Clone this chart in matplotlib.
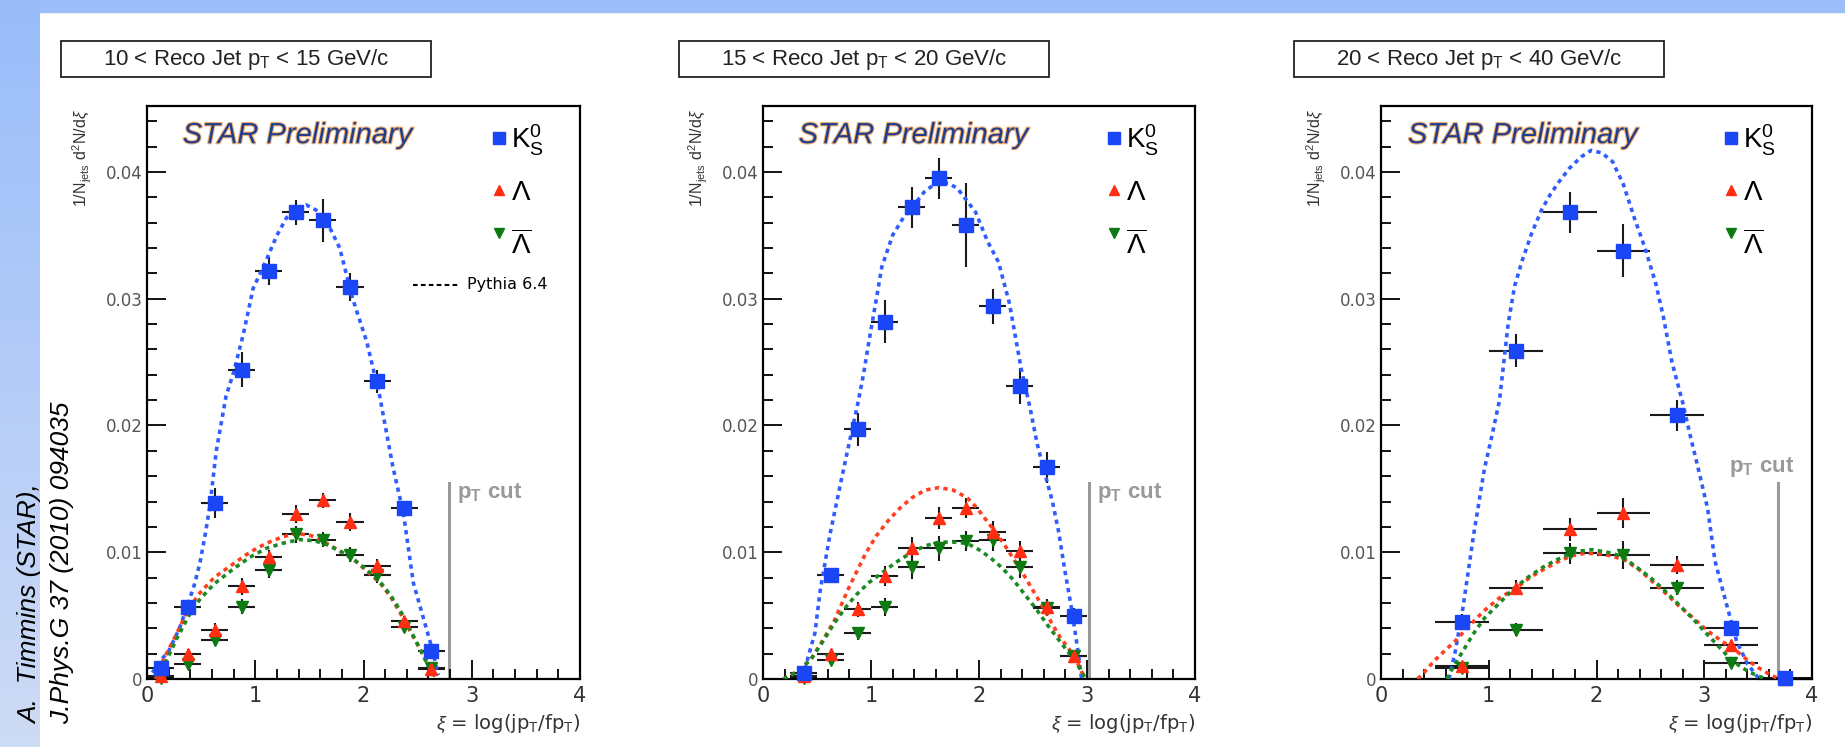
import numpy as np
import matplotlib
matplotlib.use("Agg")
import matplotlib.pyplot as plt
from matplotlib.patches import Rectangle
from matplotlib import patheffects
from matplotlib.ticker import FixedLocator, MultipleLocator

plt.rcParams["font.family"] = ["Liberation Sans", "DejaVu Sans"]
plt.rcParams["mathtext.fontset"] = "custom"
plt.rcParams["mathtext.rm"] = "Liberation Sans"
plt.rcParams["mathtext.it"] = "Liberation Sans:italic"
plt.rcParams["mathtext.bf"] = "Liberation Sans:bold"

# ---- data ----
titles = [r"10 < Reco Jet p$_\mathrm{T}$ < 15 GeV/c",
          r"15 < Reco Jet p$_\mathrm{T}$ < 20 GeV/c",
          r"20 < Reco Jet p$_\mathrm{T}$ < 40 GeV/c"]

xi1 = [0.125, 0.375, 0.625, 0.875, 1.125, 1.375, 1.625, 1.875, 2.125, 2.375, 2.625]
k0s1 = [0.0009, 0.0057, 0.0139, 0.0244, 0.0322, 0.0368, 0.0362, 0.0309, 0.0235, 0.0135, 0.0022]
k0s1_err = [0.0003, 0.0004, 0.0012, 0.0014, 0.0011, 0.0010, 0.0017, 0.0011, 0.0009, 0.0005, 0.0003]
lam1 = [0.0002, 0.0020, 0.0039, 0.0073, 0.0096, 0.0130, 0.0141, 0.0124, 0.0089, 0.0046, 0.0008]
lam1_err = [0.0002, 0.0004, 0.0005, 0.0007, 0.0006, 0.0007, 0.0006, 0.0007, 0.0006, 0.0004, 0.0003]
alam1 = [0.0001, 0.0012, 0.0031, 0.0057, 0.0086, 0.0114, 0.0110, 0.0098, 0.0082, 0.0041, 0.0009]
alam1_err = [0.0002, 0.0004, 0.0005, 0.0006, 0.0006, 0.0007, 0.0006, 0.0006, 0.0006, 0.0004, 0.0003]

xi2 = [0.375, 0.625, 0.875, 1.125, 1.375, 1.625, 1.875, 2.125, 2.375, 2.625, 2.875]
k0s2 = [0.0005, 0.0082, 0.0197, 0.0282, 0.0372, 0.0395, 0.0358, 0.0294, 0.0231, 0.0167, 0.0050]
k0s2_err = [0.0004, 0.0005, 0.0013, 0.0017, 0.0016, 0.0016, 0.0033, 0.0014, 0.0014, 0.0012, 0.0006]
lam2 = [0.0002, 0.0020, 0.0055, 0.0081, 0.0103, 0.0127, 0.0135, 0.0116, 0.0101, 0.0057, 0.0018]
lam2_err = [0.0002, 0.0004, 0.0006, 0.0008, 0.0009, 0.0009, 0.0008, 0.0009, 0.0008, 0.0006, 0.0004]
alam2 = [0.0001, 0.0015, 0.0036, 0.0057, 0.0088, 0.0103, 0.0109, 0.0110, 0.0088, 0.0056, 0.0018]
alam2_err = [0.0002, 0.0004, 0.0005, 0.0007, 0.0009, 0.0010, 0.0008, 0.0009, 0.0008, 0.0006, 0.0004]

xi3 = [0.75, 1.25, 1.75, 2.25, 2.75, 3.25, 3.75]
k0s3 = [0.0045, 0.0259, 0.0368, 0.0338, 0.0208, 0.0040, 0.0001]
k0s3_err = [0.0006, 0.0013, 0.0016, 0.0021, 0.0012, 0.0004, 0.0001]
lam3 = [0.0010, 0.0072, 0.0118, 0.0131, 0.0090, 0.0027, 0.0]
lam3_err = [0.0003, 0.0006, 0.0009, 0.0012, 0.0007, 0.0004, 0.0001]
alam3 = [0.0009, 0.0039, 0.0099, 0.0098, 0.0072, 0.0013, 0.0]
alam3_err = [0.0003, 0.0005, 0.0008, 0.0011, 0.0006, 0.0003, 0.0001]

bin_half = [0.125, 0.125, 0.25]

# Pythia 6.4 curves (x, y) for K0S, Lambda, anti-Lambda
py1_k0s_x = [0.05, 0.12, 0.20, 0.30, 0.37, 0.44, 0.49, 0.54, 0.58, 0.64, 0.73, 0.80, 0.89, 0.98, 1.10,
             1.20, 1.29, 1.40, 1.47, 1.56, 1.66, 1.78, 1.90, 2.03, 2.15, 2.27, 2.37, 2.46, 2.55, 2.64, 2.69]
py1_k0s_y = [0.0005, 0.0014, 0.0022, 0.0040, 0.0057, 0.0075, 0.0092, 0.0115, 0.0136, 0.0180, 0.0223,
             0.0242, 0.0272, 0.0308, 0.0330, 0.0350, 0.0364, 0.0372, 0.0374, 0.0370, 0.0361, 0.0340,
             0.0300, 0.0266, 0.0223, 0.0168, 0.0130, 0.0076, 0.0049, 0.0022, 0.0003]
py1_lam_x = [0.08, 0.15, 0.27, 0.38, 0.49, 0.62, 0.80, 0.95, 1.10, 1.25, 1.38, 1.52, 1.66, 1.78, 1.90,
             2.02, 2.15, 2.25, 2.34, 2.43, 2.52, 2.60, 2.66]
py1_lam_y = [0.0, 0.0015, 0.0035, 0.0055, 0.0068, 0.0080, 0.0091, 0.0100, 0.0107, 0.0112, 0.0115,
             0.0113, 0.0107, 0.0101, 0.0095, 0.0086, 0.0076, 0.0065, 0.0052, 0.0038, 0.0024, 0.0011, 0.0002]
py1_alam_x = [0.10, 0.17, 0.27, 0.38, 0.49, 0.62, 0.80, 0.95, 1.10, 1.25, 1.41, 1.55, 1.66, 1.78, 1.90,
              2.02, 2.15, 2.25, 2.34, 2.43, 2.52, 2.60, 2.68]
py1_alam_y = [0.0, 0.0013, 0.0031, 0.0049, 0.0063, 0.0075, 0.0087, 0.0096, 0.0103, 0.0107, 0.0110,
              0.0109, 0.0106, 0.0101, 0.0095, 0.0087, 0.0077, 0.0066, 0.0054, 0.0039, 0.0024, 0.0010, 0.0]

py2_k0s_x = [0.37, 0.42, 0.48, 0.53, 0.62, 0.73, 0.80, 0.87, 0.93, 0.98, 1.05, 1.10, 1.20, 1.30, 1.38,
             1.50, 1.62, 1.72, 1.80, 1.90, 1.97, 2.08, 2.18, 2.28, 2.39, 2.47, 2.54, 2.61, 2.68, 2.74,
             2.79, 2.86, 2.92, 2.95]
py2_k0s_y = [0.0001, 0.0018, 0.0036, 0.0070, 0.0114, 0.0159, 0.0187, 0.0214, 0.0240, 0.0266, 0.0300,
             0.0325, 0.0350, 0.0364, 0.0372, 0.0385, 0.0392, 0.0391, 0.0387, 0.0376, 0.0368, 0.0345,
             0.0329, 0.0297, 0.0245, 0.0215, 0.0185, 0.0162, 0.0140, 0.0115, 0.0088, 0.0054, 0.0020, 0.0]
py2_lam_x = [0.19, 0.30, 0.44, 0.55, 0.66, 0.80, 0.95, 1.05, 1.16, 1.27, 1.38, 1.50, 1.63, 1.76, 1.89,
             1.98, 2.07, 2.16, 2.25, 2.34, 2.43, 2.52, 2.61, 2.68, 2.75, 2.83, 2.90, 2.97]
py2_lam_y = [0.0, 0.0005, 0.0015, 0.0030, 0.0046, 0.0073, 0.0099, 0.0113, 0.0125, 0.0135, 0.0143,
             0.0149, 0.0151, 0.0149, 0.0143, 0.0135, 0.0125, 0.0115, 0.0104, 0.0092, 0.0080, 0.0067,
             0.0054, 0.0043, 0.0033, 0.0024, 0.0015, 0.0002]
py2_alam_x = [0.19, 0.30, 0.44, 0.55, 0.66, 0.77, 0.87, 0.98, 1.09, 1.23, 1.38, 1.50, 1.63, 1.76, 1.89,
              2.00, 2.10, 2.21, 2.32, 2.43, 2.54, 2.63, 2.72, 2.81, 2.90, 2.99]
py2_alam_y = [0.0, 0.0005, 0.0015, 0.0029, 0.0044, 0.0057, 0.0067, 0.0076, 0.0083, 0.0092, 0.0100,
              0.0105, 0.0108, 0.0108, 0.0107, 0.0102, 0.0096, 0.0088, 0.0078, 0.0066, 0.0054, 0.0043,
              0.0033, 0.0023, 0.0013, 0.0]

py3_k0s_x = [0.63, 0.69, 0.76, 0.81, 0.86, 0.91, 0.96, 1.03, 1.10, 1.14, 1.18, 1.24, 1.31, 1.40, 1.49,
             1.57, 1.65, 1.75, 1.86, 1.95, 2.05, 2.15, 2.25, 2.35, 2.45, 2.55, 2.62, 2.70, 2.80, 2.87,
             2.93, 3.03, 3.10, 3.20, 3.30, 3.40, 3.50]
py3_k0s_y = [0.0, 0.0022, 0.0056, 0.0085, 0.0114, 0.0140, 0.0166, 0.0192, 0.0220, 0.0250, 0.0280,
             0.0310, 0.0330, 0.0352, 0.0370, 0.0382, 0.0392, 0.0403, 0.0412, 0.0417, 0.0415, 0.0408,
             0.0390, 0.0364, 0.0340, 0.0312, 0.0286, 0.0250, 0.0218, 0.0192, 0.0171, 0.0135, 0.0093,
             0.0061, 0.0030, 0.0012, 0.0001]
py3_lam_x = [0.34, 0.42, 0.49, 0.60, 0.69, 0.83, 0.96, 1.10, 1.26, 1.38, 1.50, 1.63, 1.76, 1.88, 2.01,
             2.14, 2.26, 2.40, 2.53, 2.65, 2.76, 2.90, 3.03, 3.16, 3.30, 3.40, 3.50, 3.60, 3.67]
py3_lam_y = [0.0, 0.0007, 0.0014, 0.0023, 0.0030, 0.0043, 0.0054, 0.0064, 0.0072, 0.0080, 0.0086,
             0.0092, 0.0097, 0.0099, 0.0099, 0.0097, 0.0094, 0.0086, 0.0076, 0.0067, 0.0058, 0.0048,
             0.0038, 0.0030, 0.0022, 0.0015, 0.0009, 0.0004, 0.0001]
py3_alam_x = [0.61, 0.68, 0.76, 0.86, 0.96, 1.10, 1.23, 1.36, 1.50, 1.63, 1.76, 1.86, 1.96, 2.10, 2.23,
              2.36, 2.50, 2.63, 2.76, 2.90, 3.03, 3.13, 3.23, 3.33, 3.43, 3.57]
py3_alam_y = [0.0, 0.0011, 0.0022, 0.0036, 0.0048, 0.0060, 0.0071, 0.0080, 0.0088, 0.0094, 0.0099,
              0.0101, 0.0102, 0.0100, 0.0097, 0.0089, 0.0080, 0.0070, 0.0059, 0.0047, 0.0035, 0.0026,
              0.0017, 0.0010, 0.0005, 0.0]

pt_cut = [2.79, 3.02, 3.68]

ytick_vals = [0, 0.01, 0.02, 0.03, 0.04]
ytick_labels = ["0", "0.01", "0.02", "0.03", "0.04"]
xtick_vals = [0, 1, 2, 3, 4]
xtick_labels = ["0", "1", "2", "3", "4"]

panels = [
    (xi1, k0s1, k0s1_err, lam1, lam1_err, alam1, alam1_err,
     (py1_k0s_x, py1_k0s_y), (py1_lam_x, py1_lam_y), (py1_alam_x, py1_alam_y)),
    (xi2, k0s2, k0s2_err, lam2, lam2_err, alam2, alam2_err,
     (py2_k0s_x, py2_k0s_y), (py2_lam_x, py2_lam_y), (py2_alam_x, py2_alam_y)),
    (xi3, k0s3, k0s3_err, lam3, lam3_err, alam3, alam3_err,
     (py3_k0s_x, py3_k0s_y), (py3_lam_x, py3_lam_y), (py3_alam_x, py3_alam_y)),
]

BLUE, RED, GREEN = "#1a46f5", "#ff2e12", "#0d7a12"
PBLUE, PRED, PGREEN = "#2f5dff", "#ff4020", "#1b8a25"

W, H = 1845, 747
fig = plt.figure(figsize=(W / 100, H / 100), dpi=100)

def frac(x0, x1, ytop, ybot):
    return [x0 / W, 1 - ybot / H, (x1 - x0) / W, (ybot - ytop) / H]

# slide background: blue top bar and fading left bar
bg = fig.add_axes(frac(0, 40, 0, H))
grad = np.linspace(0, 1, 256).reshape(-1, 1)
c_top = np.array([0.60, 0.74, 0.98])
c_bot = np.array([0.81, 0.86, 0.96])
bg.imshow(c_top + grad[..., None] * (c_bot - c_top), aspect="auto", extent=[0, 1, 0, 1])
bg.axis("off")
fig.add_artist(Rectangle((0, 1 - 12 / H), 1, 12 / H, transform=fig.transFigure,
                         color="#9cbef8", zorder=0))

fig.text(30 / W, 1 - 724 / H, "A.  Timmins (STAR),", rotation=90, ha="center", va="bottom",
         style="italic", fontsize=19)
fig.text(62 / W, 1 - 724 / H, "J.Phys.G 37 (2010) 094035", rotation=90, ha="center", va="bottom",
         style="italic", fontsize=19)

ax_x = [(147, 580), (763, 1195), (1381, 1812)]
box_x = [(61, 431), (679, 1049), (1294, 1664)]
AX_TOP, AX_BOT = 106, 679

dot = (0, (1.2, 1.2))

for i, (xi, k, ke, l, le, a, ae, pk, pl, pa) in enumerate(panels):
    ax = fig.add_axes(frac(ax_x[i][0], ax_x[i][1], AX_TOP, AX_BOT))
    hw = bin_half[i]

    # title box
    bx0, bx1 = box_x[i]
    fig.add_artist(Rectangle((bx0 / W, 1 - 77 / H), (bx1 - bx0) / W, 36 / H,
                             transform=fig.transFigure, fill=False, lw=1.3, ec="#222"))
    fig.text((bx0 + bx1) / 2 / W, 1 - 59 / H, titles[i], ha="center", va="center",
             fontsize=16, color="#222")

    # pythia curves
    ax.plot(pk[0], pk[1], ls=dot, color=PBLUE, lw=2.6, zorder=3)
    ax.plot(pl[0], pl[1], ls=dot, color=PRED, lw=2.6, zorder=3)
    ax.plot(pa[0], pa[1], ls=dot, color=PGREEN, lw=2.6, zorder=3)

    # data with error bars
    for y, e in ((k, ke), (l, le), (a, ae)):
        ax.errorbar(xi, y, xerr=hw, yerr=e, fmt="none", ecolor="#1a1a1a",
                    elinewidth=1.5, capsize=0, zorder=2, clip_on=False)
    ax.plot(xi, a, "v", color=GREEN, ms=9, zorder=4, clip_on=False)
    ax.plot(xi, l, "^", color=RED, ms=9, zorder=4, clip_on=False)
    ax.plot(xi, k, "s", color=BLUE, ms=10.5, zorder=5, clip_on=False)

    # pT cut marker
    ax.plot([pt_cut[i], pt_cut[i]], [0, 0.0155], color="#9a9a9a", lw=2.2, zorder=1)
    if i < 2:
        ax.text(pt_cut[i] + 0.07, 0.0156, r"$\mathbf{p_T}$ cut", ha="left", va="top",
                fontsize=16, fontweight="bold", color="#999999")
    else:
        ax.text(pt_cut[i] - 0.45, 0.0158, r"$\mathbf{p_T}$ cut", ha="left", va="bottom",
                fontsize=16, fontweight="bold", color="#999999")

    # STAR label and legend
    ax.text(0.33 if i < 2 else 0.25, 0.0429, "STAR Preliminary", style="italic", fontsize=21,
            color="#1d3d8f", va="center", ha="left",
            path_effects=[patheffects.withStroke(linewidth=1.6, foreground="#f2b070")])
    ax.plot([3.25], [0.0427], "s", color=BLUE, ms=8)
    ax.text(3.36, 0.0425, r"$\mathrm{K}^{0}_{\mathrm{S}}$", fontsize=20, va="center")
    ax.plot([3.25], [0.0386], "^", color=RED, ms=6.5)
    ax.text(3.36, 0.0383, r"$\Lambda$", fontsize=20, va="center")
    ax.plot([3.25], [0.0352], "v", color=GREEN, ms=6.5)
    ax.text(3.36, 0.0342, r"$\overline{\Lambda}$", fontsize=20, va="center")
    if i == 0:
        ax.plot([2.46, 2.88], [0.0311, 0.0311], color="k", ls=(0, (2.2, 1.6)), lw=1.5)
        ax.text(2.96, 0.0311, "Pythia 6.4", fontsize=11.5, va="center", family="DejaVu Sans")

    # axes styling in ROOT fashion
    ax.set_xlim(0, 4)
    ax.set_ylim(0, 0.0452)
    ax.yaxis.set_major_locator(FixedLocator(ytick_vals))
    ax.set_yticklabels(ytick_labels)
    ax.yaxis.set_minor_locator(MultipleLocator(0.002))
    ax.xaxis.set_major_locator(FixedLocator(xtick_vals))
    ax.set_xticklabels(xtick_labels)
    ax.xaxis.set_minor_locator(MultipleLocator(0.2))
    ax.tick_params(which="both", direction="in", top=False, right=False, width=1.3)
    ax.tick_params(which="major", length=14)
    ax.tick_params(which="minor", length=7)
    ax.tick_params(axis="y", labelsize=12, labelcolor="#555555", pad=3)
    ax.tick_params(axis="x", labelsize=15, labelcolor="#333333", pad=5)
    for lab in ax.get_yticklabels() + ax.get_xticklabels():
        lab.set_family("DejaVu Sans")
    for s in ax.spines.values():
        s.set_linewidth(1.6)

    ax.text(1.0, -0.058, r"$\xi$ = log(jp$_\mathrm{T}$/fp$_\mathrm{T}$)", transform=ax.transAxes,
            ha="right", va="top", fontsize=14, color="#333333", family="DejaVu Sans")
    ax.text(-0.15, 0.995, r"1/N$_\mathrm{jets}$ d$^2$N/d$\xi$", transform=ax.transAxes,
            rotation=90, ha="center", va="top", fontsize=11.5, color="#333333")

fig.savefig("out.png", dpi=100)
